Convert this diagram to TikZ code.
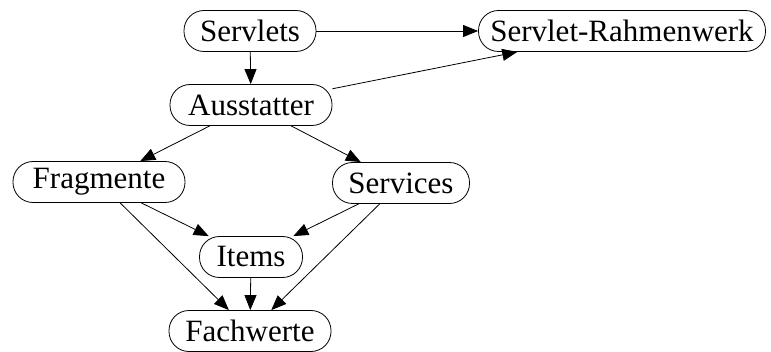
\documentclass[tikz,border=0pt]{standalone}
\usepackage{fontspec}
\setmainfont{Liberation Serif}
\usetikzlibrary{arrows.meta}
\begin{document}
\begin{tikzpicture}[x=1pt,y=1pt,
  box/.style={draw,line width=0.8pt,rounded corners=20pt,minimum height=41pt,inner xsep=10pt,inner ysep=0pt,font=\fontsize{31}{36}\selectfont},
  edge/.style={line width=0.8pt,-{Triangle[length=15pt,width=12pt]}}]
\useasboundingbox (0,0) rectangle (771,351);
\node[box,minimum width=132pt] (sv) at (250,320) {Servlets};
\node[box,minimum width=287pt] (sr) at (622,320) {Servlet-Rahmenwerk};
\node[box,minimum width=162pt] (au) at (251,246) {Ausstatter};
\node[box,minimum width=172pt] (fr) at (99,169) {Fragmente};
\node[box,minimum width=137pt] (se) at (401,168) {Services};
\node[box,minimum width=103pt] (it) at (251,94) {Items};
\node[box,minimum width=162pt] (fw) at (250,20) {Fachwerte};
\draw[edge] (sv) -- (sr);
\draw[edge] (sv) -- (au);
\draw[edge] (au) -- (sr);
\draw[edge] (au) -- (fr);
\draw[edge] (au) -- (se);
\draw[edge] (fr) -- (it);
\draw[edge] (fr) -- (fw);
\draw[edge] (se) -- (it);
\draw[edge] (se) -- (fw);
\draw[edge] (it) -- (fw);
\end{tikzpicture}
\end{document}
